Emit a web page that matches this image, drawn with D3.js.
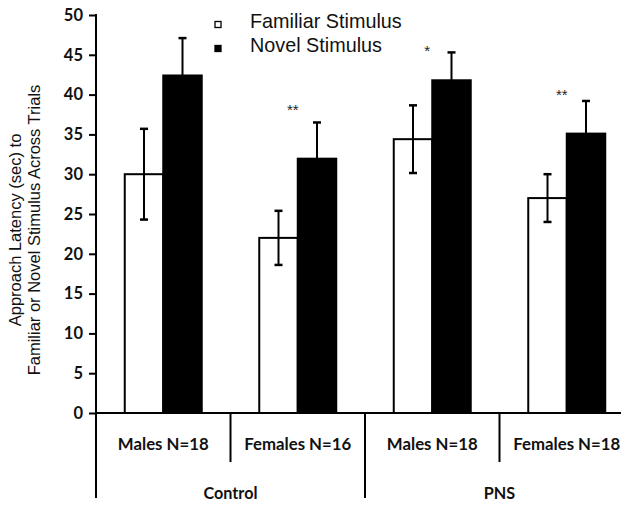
<!DOCTYPE html>
<html>
<head>
<meta charset="utf-8">
<script src="https://cdn.jsdelivr.net/npm/d3@7"></script>
<style>
  html, body { margin: 0; padding: 0; background: #fff; }
  svg { display: block; }
</style>
</head>
<body>
<svg id="chart" width="629" height="507"></svg>
<script>
// ---- Data ----
const categories = ["Males N=18", "Females N=16", "Males N=18", "Females N=18"];
const groups = ["Control", "PNS"];
const seriesNames = ["Familiar Stimulus", "Novel Stimulus"];
const familiarValues = [30.0, 22.0, 34.4, 27.0];
const familiarErrors = [5.7, 3.4, 4.25, 3.0];
const novelValues = [42.4, 31.95, 41.8, 35.1];
const novelErrors = [4.7, 4.55, 3.5, 4.1];
const significance = ["", "**", "*", "**"];
const significanceY = [0, 38.2, 45.6, 40.1];
const yTicks = [0, 5, 10, 15, 20, 25, 30, 35, 40, 45, 50];
const yTitleLines = ["Approach Latency (sec) to", "Familiar or Novel Stimulus Across Trials"];

(function () {
// ---- Layout ----
const svg = d3.select("#chart");
const mLeft = 96, axisRight = 621, bandRight = 634, mTop = 15, mBottom = 413;

const y = d3.scaleLinear().domain([0, 50]).range([mBottom, mTop]);
const x0 = d3.scaleBand().domain(d3.range(categories.length)).range([mLeft, bandRight]).paddingInner(0).paddingOuter(0);
const x1 = d3.scaleBand().domain([0, 1]).range([0, x0.bandwidth()]).paddingInner(0).paddingOuter(0.747);

const data = categories.map((c, i) => ({
  i, c,
  vals: [
    { s: 0, v: familiarValues[i], e: familiarErrors[i] },
    { s: 1, v: novelValues[i], e: novelErrors[i] }
  ]
}));

// bars
const g = svg.append("g");
const grp = g.selectAll("g.grp").data(data).join("g")
  .attr("transform", d => `translate(${x0(d.i)},0)`);

grp.selectAll("rect").data(d => d.vals).join("rect")
  .attr("x", d => x1(d.s))
  .attr("y", d => y(d.v))
  .attr("width", x1.bandwidth())
  .attr("height", d => y(0) - y(d.v))
  .attr("fill", d => d.s === 0 ? "#fff" : "#000")
  .attr("stroke", "#000")
  .attr("stroke-width", 2);

// error bars
const capW = 8;
grp.selectAll("g.err").data(d => d.vals).join("g").attr("class", "err")
  .each(function(d) {
    const cx = x1(d.s) + x1.bandwidth() / 2;
    const s = d3.select(this);
    s.append("line").attr("x1", cx).attr("x2", cx).attr("y1", y(d.v + d.e)).attr("y2", y(d.v - d.e))
      .attr("stroke", "#000").attr("stroke-width", 2);
    s.append("line").attr("x1", cx - capW / 2).attr("x2", cx + capW / 2).attr("y1", y(d.v + d.e)).attr("y2", y(d.v + d.e))
      .attr("stroke", "#000").attr("stroke-width", 2.5);
    s.append("line").attr("x1", cx - capW / 2).attr("x2", cx + capW / 2).attr("y1", y(d.v - d.e)).attr("y2", y(d.v - d.e))
      .attr("stroke", "#000").attr("stroke-width", 2.5);
  });

// significance marks
grp.append("text")
  .attr("x", x0.bandwidth() / 2 - 5)
  .attr("y", d => y(significanceY[d.i]) + 6)
  .attr("text-anchor", "middle")
  .attr("font-family", "Liberation Sans, Arial, sans-serif")
  .attr("font-size", 15)
  .attr("fill", "#222")
  .text(d => significance[d.i]);

// y axis
const yAxis = d3.axisLeft(y).tickValues(yTicks).tickSize(7).tickPadding(6).tickFormat(d3.format("d"));
const ya = svg.append("g").attr("transform", `translate(${mLeft},0)`).call(yAxis);
ya.select(".domain").remove();
ya.selectAll(".tick line").attr("stroke", "#000").attr("stroke-width", 2);
ya.selectAll(".tick text")
  .attr("font-family", "Lato, 'Open Sans', sans-serif")
  .attr("font-weight", 700)
  .attr("font-size", 16.5)
  .attr("fill", "#111");
svg.append("line").attr("x1", mLeft).attr("x2", mLeft).attr("y1", mTop - 1).attr("y2", 498)
  .attr("stroke", "#000").attr("stroke-width", 2);

// x baseline
svg.append("line").attr("x1", mLeft).attr("x2", axisRight).attr("y1", mBottom).attr("y2", mBottom)
  .attr("stroke", "#000").attr("stroke-width", 2);

// separators between categories
d3.range(1, categories.length).forEach(i => {
  const xx = x0(i);
  const long = (i % 2 === 0);
  svg.append("line").attr("x1", xx).attr("x2", xx).attr("y1", mBottom).attr("y2", long ? 498 : 462)
    .attr("stroke", "#000").attr("stroke-width", 2);
});

// category labels
svg.selectAll("text.cat").data(categories).join("text").attr("class", "cat")
  .attr("x", (d, i) => x0(i) + x0.bandwidth() / 2)
  .attr("y", 450)
  .attr("text-anchor", "middle")
  .attr("font-family", "Lato, 'Open Sans', sans-serif")
  .attr("font-weight", 700)
  .attr("font-size", 16.8)
  .attr("fill", "#111")
  .text(d => d);

// group labels
svg.selectAll("text.grp").data(groups).join("text").attr("class", "grp")
  .attr("x", (d, i) => x0(i * 2 + 1))
  .attr("y", 499)
  .attr("text-anchor", "middle")
  .attr("font-family", "Lato, 'Open Sans', sans-serif")
  .attr("font-weight", 700)
  .attr("font-size", 16.2)
  .attr("fill", "#111")
  .text(d => d);

// y title
const yt = svg.append("text")
  .attr("transform", "translate(0,230) rotate(-90)")
  .attr("text-anchor", "middle")
  .attr("font-family", "Liberation Sans, Arial, sans-serif")
  .attr("font-size", 16.5)
  .attr("fill", "#111");
yTitleLines.forEach((t, i) => {
  yt.append("tspan").attr("x", 0).attr("y", i === 0 ? 21 : 40).text(t);
});

// legend
const legend = svg.append("g");
seriesNames.forEach((name, i) => {
  const ly = [28, 52][i];
  legend.append("rect").attr("x", 215).attr("y", ly - 6.5).attr("width", 6).attr("height", 6)
    .attr("fill", i === 0 ? "#fff" : "#000").attr("stroke", "#000").attr("stroke-width", 1.3);
  legend.append("text").attr("x", 250).attr("y", ly)
    .attr("font-family", "Liberation Sans, Arial, sans-serif")
    .attr("font-size", 19.8)
    .attr("fill", "#111")
    .text(name);
});
})();
</script>
</body>
</html>
